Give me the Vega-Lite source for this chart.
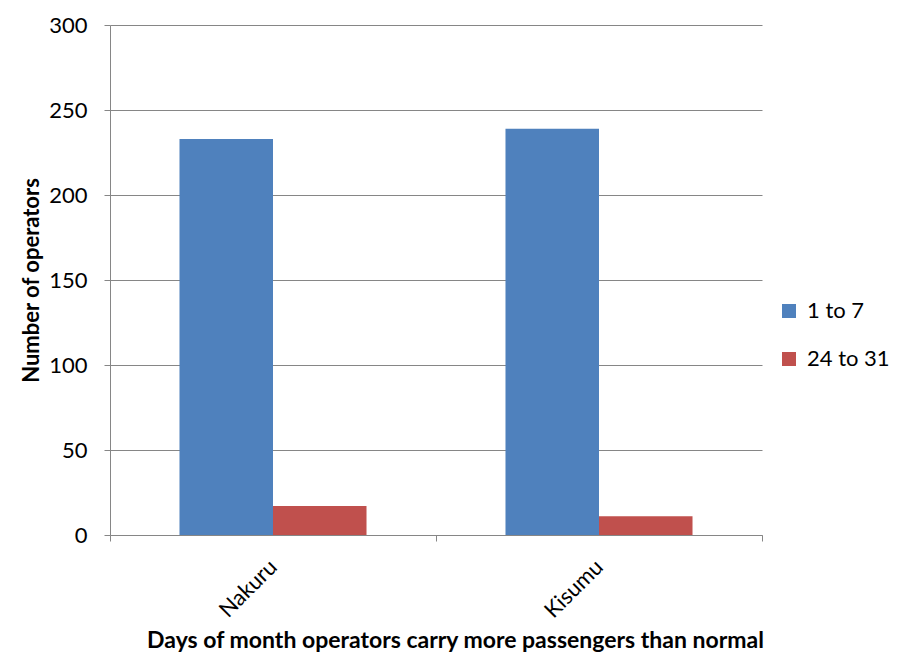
{
  "$schema": "https://vega.github.io/schema/vega-lite/v6.json",
  "width": 652,
  "height": 510,
  "autosize": {"type": "none"},
  "padding": {"left": 110, "top": 25, "right": 146, "bottom": 125},
  "background": "white",
  "data": {"values": [
    {"city": "Nakuru", "days": "1 to 7", "operators": 233},
    {"city": "Nakuru", "days": "24 to 31", "operators": 17},
    {"city": "Kisumu", "days": "1 to 7", "operators": 239},
    {"city": "Kisumu", "days": "24 to 31", "operators": 11}
  ]},
  "mark": {"type": "bar"},
  "encoding": {
    "x": {
      "field": "city", "type": "nominal", "sort": ["Nakuru", "Kisumu"],
      "scale": {"paddingInner": 0, "paddingOuter": 0},
      "axis": {
        "title": "Days of month operators carry more passengers than normal",
        "titleFont": "Lato", "titleFontSize": 23, "titleFontWeight": "bold", "titleColor": "black",
        "titleX": 345, "titleY": 105, "titleBaseline": "middle", "titleAlign": "center",
        "labelAngle": -45, "labelAlign": "right", "labelBaseline": "middle",
        "labelFont": "Lato", "labelFontSize": 22, "labelColor": "black", "labelPadding": 22,
        "tickBand": "extent", "tickSize": 6, "tickColor": "#868686", "domainColor": "#868686",
        "grid": false
      }
    },
    "xOffset": {"field": "days", "type": "nominal", "scale": {"paddingInner": 0, "paddingOuter": 0.743}},
    "y": {
      "field": "operators", "type": "quantitative",
      "scale": {"domain": [0, 300]},
      "axis": {
        "title": "Number of operators",
        "titleFont": "Lato", "titleFontSize": 22, "titleFontWeight": "bold", "titleColor": "black",
        "titlePadding": 5,
        "values": [0, 50, 100, 150, 200, 250, 300],
        "labelFont": "Lato", "labelFontSize": 22, "labelColor": "black", "labelPadding": 17,
        "tickSize": 6, "tickColor": "#868686", "domainColor": "#868686",
        "grid": true, "gridColor": "#868686", "gridWidth": 1
      }
    },
    "color": {
      "field": "days", "type": "nominal",
      "scale": {"domain": ["1 to 7", "24 to 31"], "range": ["#4F81BD", "#C0504D"]},
      "legend": {
        "title": null, "orient": "none", "legendX": 668, "legendY": 275,
        "symbolType": "square", "symbolSize": 196, "symbolStrokeWidth": 0,
        "labelFont": "Lato", "labelFontSize": 22, "labelColor": "black",
        "rowPadding": 26, "labelOffset": 7
      }
    }
  },
  "config": {"view": {"stroke": null}}
}
